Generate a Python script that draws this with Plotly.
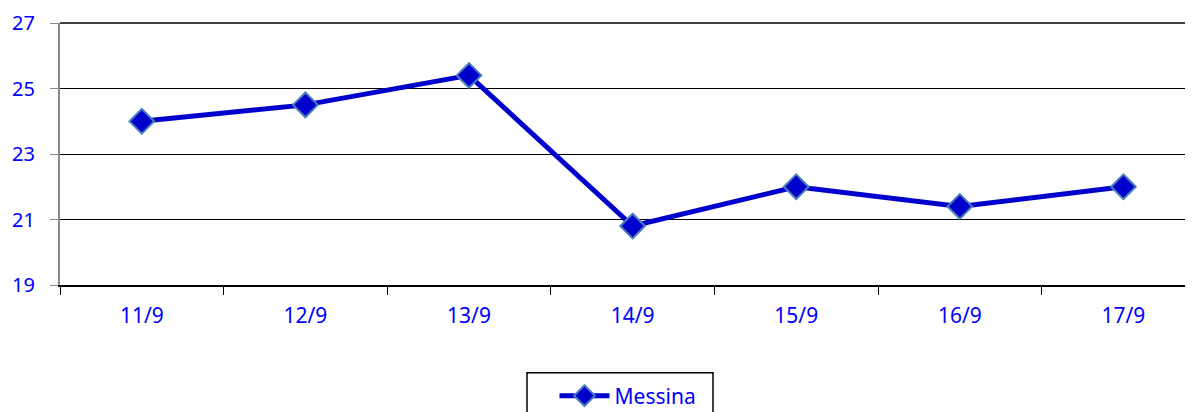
import plotly.graph_objects as go

categories = ["11/9", "12/9", "13/9", "14/9", "15/9", "16/9", "17/9"]
messina = [24.0, 24.5, 25.4, 20.8, 22.0, 21.4, 22.0]
y_ticks = [19, 21, 23, 25, 27]

FONT = "Noto Sans"
BLUE = "#0000FF"
FS = 20

fig = go.Figure()
fig.add_trace(go.Scatter(
    x=categories, y=messina, mode="lines+markers", name="Messina",
    line=dict(color="#0000CC", width=5),
    marker=dict(symbol="diamond", size=19, color="#0000CC",
                line=dict(color="#4A7EBB", width=2)),
))

fig.update_layout(
    width=1193, height=412,
    margin=dict(l=52, r=0, t=15, b=135, autoexpand=False),
    plot_bgcolor="white", paper_bgcolor="white",
    font=dict(family=FONT, size=FS, color=BLUE),
    showlegend=True,
    legend=dict(
        xref="container", yref="container", x=0.5197, y=0.108,
        xanchor="center", yanchor="top",
        borderwidth=0, bgcolor="rgba(0,0,0,0)",
        font=dict(family=FONT, size=21, color=BLUE),
        itemwidth=50, tracegroupgap=0,
    ),
    xaxis=dict(
        type="category", range=[-0.5, 6.474], automargin=False,
        showline=True, linecolor="black", linewidth=2,
        ticks="outside", tickson="boundaries", ticklen=8, tickcolor="black", tickwidth=1,
        showgrid=False, tickfont=dict(color=BLUE, size=21, family=FONT),
        ticklabelstandoff=11,
    ),
    yaxis=dict(
        range=[19, 27], tickvals=y_ticks, automargin=False,
        showline=True, linecolor="#888888", linewidth=2,
        ticks="outside", ticklen=8, tickcolor="#888888",
        showgrid=True, gridcolor="black", gridwidth=1.3,
        zeroline=False, tickfont=dict(color=BLUE, size=FS, family=FONT),
        ticklabelstandoff=11, ticklabeloverflow="allow",
    ),
)

# top gridline at the upper edge of the range
fig.add_shape(type="line", xref="paper", yref="paper", x0=0, x1=1, y0=1, y1=1,
              line=dict(color="black", width=1.5), layer="below")
# legend frame
fig.add_shape(type="rect", xref="paper", yref="paper", x0=0.4093, x1=0.5723, y0=-0.335, y1=-0.6,
              line=dict(color="black", width=1.5), fillcolor="rgba(0,0,0,0)")

fig.write_html("out.html")
